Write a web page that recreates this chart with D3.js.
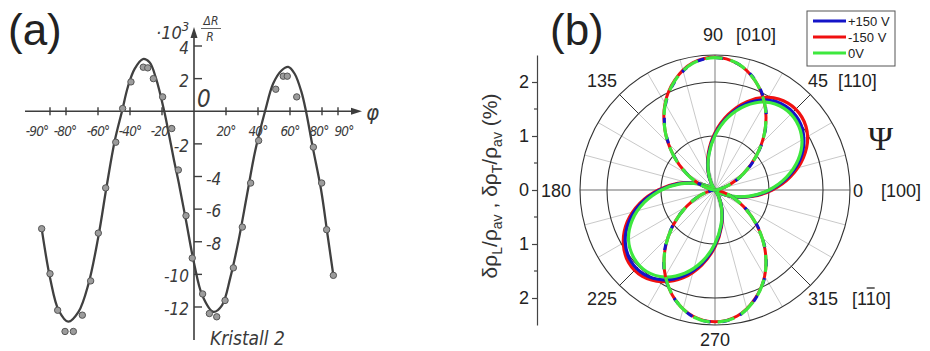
<!DOCTYPE html>
<html>
<head>
<meta charset="utf-8">
<script src="https://cdn.jsdelivr.net/npm/d3@7"></script>
<style>
  body { margin: 0; background: #fff; }
  svg { display: block; font-family: "Liberation Sans", Arial, sans-serif; }
  .hand { font-family: "DejaVu Sans Condensed", "DejaVu Sans", sans-serif; font-style: oblique; fill: #3a3a3a; }
</style>
</head>
<body>
<svg width="930" height="351"></svg>
<script>
// ---- panel (a): dR/R (x1e-3) vs angle, Kristall 2
const psiTicks = [-90, -80, -60, -40, -20, 20, 40, 60, 80, 90];
const drTicks = [4, 2, -2, -4, -6, -8, -10, -12];
const curvePsi = [-95.2, -89.8, -84.6, -78.6, -72.2, -66, -59.8, -54.6, -49.5, -45, -41.3, -37.1, -31.9, -27.8, -23.7, -18.6, -15.5, -12.5, -9.5, -5, 0, 5.2, 12.1, 17.5, 22.7, 27.9, 33, 38.1, 44.4, 49.5, 54.7, 58.9, 62.9, 67.1, 70, 74.2, 79.4, 83.5, 87.1];
const curveDR = [-7.2, -10.3, -12.2, -12.9, -12.3, -10.6, -7.7, -4.6, -1.8, 0, 1.5, 2.6, 3.2, 3.0, 2.0, 0, -1.5, -3.0, -4.4, -6.7, -9.3, -11.3, -12.3, -11.9, -10.2, -7.9, -5.2, -2.5, 0, 1.7, 2.5, 2.72, 2.3, 1.2, 0, -2.2, -4.8, -7.6, -10.06];
const dotPsi = [-95.2, -90, -85.2, -80.6, -75.4, -69.8, -64.6, -59.8, -55.2, -48.9, -44.6, -39.4, -31.7, -28.9, -25.4, -19.6, -13.9, -9.8, -5, -1.1, 5.4, 9.6, 14.2, 19.4, 24.6, 30.2, 35.4, 40.4, 51.1, 55.8, 58.3, 64.2, 74.6, 79.8, 82.9, 87.1];
const dotDR = [-7.2, -9.96, -12.2, -13.5, -13.5, -12.5, -10.4, -7.47, -4.7, -1.9, 0.17, 1.8, 2.7, 2.66, 2.0, 0.88, -1.06, -3.6, -6.4, -9.0, -11.2, -12.4, -12.6, -11.6, -9.6, -7.1, -4.4, -1.8, 1.35, 2.15, 2.15, 0.88, -2.2, -4.4, -7.26, -10.06];

// ---- panel (b): polar plot, angle in degrees, radius in %
const polarAngles = [0, 10, 20, 30, 40, 50, 60, 70, 80, 90, 100, 110, 120, 130, 140, 150, 160, 170,
                     180, 190, 200, 210, 220, 230, 240, 250, 260, 270, 280, 290, 300, 310, 320, 330, 340, 350];
// lobes along [010] (drawn dashed-looking)
const rho90Plus = [0, 0.07, 0.29, 0.62, 1.02, 1.45, 1.85, 2.17, 2.38, 2.45, 2.38, 2.15, 1.83, 1.43, 1.00, 0.60, 0.28, 0.07,
                   0, 0.07, 0.29, 0.61, 1.02, 1.45, 1.85, 2.16, 2.38, 2.45, 2.38, 2.16, 1.85, 1.45, 1.02, 0.62, 0.29, 0.07];
const rho90Minus = [0, 0.07, 0.29, 0.61, 1.01, 1.44, 1.84, 2.16, 2.38, 2.46, 2.39, 2.17, 1.85, 1.44, 1.01, 0.61, 0.29, 0.07,
                    0, 0.07, 0.29, 0.61, 1.01, 1.44, 1.84, 2.16, 2.37, 2.44, 2.37, 2.15, 1.84, 1.44, 1.01, 0.61, 0.29, 0.07];
const rho90Zero = [0, 0.07, 0.29, 0.61, 1.01, 1.44, 1.84, 2.16, 2.38, 2.45, 2.38, 2.16, 1.84, 1.44, 1.01, 0.61, 0.29, 0.07,
                   0, 0.07, 0.29, 0.61, 1.01, 1.44, 1.84, 2.16, 2.38, 2.45, 2.38, 2.16, 1.84, 1.44, 1.01, 0.61, 0.29, 0.07];
// lobes along [110]
const rho45Plus = [1.02, 1.37, 1.68, 1.90, 2.02, 2.03, 1.92, 1.70, 1.38, 1.03, 0.67, 0.37, 0.14, 0.02, 0.02, 0.13, 0.36, 0.68,
                   1.02, 1.38, 1.69, 1.92, 2.04, 2.04, 1.92, 1.69, 1.38, 1.02, 0.67, 0.37, 0.14, 0.02, 0.02, 0.14, 0.37, 0.67];
const rho45Minus = [1.06, 1.42, 1.74, 1.98, 2.10, 2.10, 1.98, 1.74, 1.42, 1.06, 0.70, 0.38, 0.14, 0.02, 0.02, 0.14, 0.38, 0.70,
                    1.05, 1.41, 1.73, 1.96, 2.09, 2.09, 1.96, 1.73, 1.41, 1.05, 0.69, 0.37, 0.14, 0.02, 0.02, 0.14, 0.37, 0.69];
const rho45Zero = [1.00, 1.34, 1.64, 1.86, 1.97, 1.98, 1.88, 1.66, 1.36, 1.01, 0.66, 0.36, 0.13, 0.02, 0.02, 0.13, 0.35, 0.66,
                   0.99, 1.33, 1.63, 1.85, 1.96, 1.97, 1.86, 1.64, 1.34, 0.99, 0.65, 0.35, 0.13, 0.02, 0.02, 0.13, 0.35, 0.65];
const seriesNames = ['+150 V', '-150 V', '0V'];
const seriesColors = ['#1414c8', '#f01010', '#3ee83e'];
const radialTicks = [1, 2, 2.5];
const radialAxisTicks = [-2, -1, 0, 1, 2];

const svg = d3.select('svg');

// ================= panel (a)
const gA = svg.append('g');
const ink = '#3d3d3d';
const xA = d3.scaleLinear().domain([-90, 90]).range([50, 338]);
const yA = d3.scaleLinear().domain([4, -12]).range([46, 307]);
const x0 = xA(0), y0 = yA(0);

svg.append('text').attr('x', 8).attr('y', 45).attr('font-size', 44).attr('fill', '#222').text('(a)');

// axes drawn by hand, like the scan
gA.append('line').attr('x1', 25).attr('x2', 356).attr('y1', y0).attr('y2', y0)
    .attr('stroke', ink).attr('stroke-width', 1.6);
gA.append('path').attr('d', `M362,${y0} l-11,-3.5 l0,7 z`).attr('fill', ink);
gA.append('line').attr('x1', x0).attr('x2', x0).attr('y1', 34).attr('y2', 340)
    .attr('stroke', ink).attr('stroke-width', 1.6);
gA.append('path').attr('d', `M${x0},27 l-3.5,11 l7,0 z`).attr('fill', ink);

gA.selectAll('.xt').data(psiTicks).join('line')
    .attr('x1', d => xA(d)).attr('x2', d => xA(d))
    .attr('y1', y0 - 4).attr('y2', y0 + 4)
    .attr('stroke', ink).attr('stroke-width', 1.4);
// the end labels sit a bit outward in the scan
const labelShift = d => d === -90 ? -13 : d === 90 ? 6 : d === -80 ? -1 : d === 80 ? -3 : 0;
gA.selectAll('.xl').data(psiTicks).join('text')
    .attr('class', 'hand')
    .attr('x', d => xA(d) + labelShift(d)).attr('y', y0 + 25)
    .attr('text-anchor', 'middle').attr('font-size', 13.5)
    .attr('letter-spacing', -0.8)
    .text(d => d + '°');

gA.selectAll('.yt').data(drTicks).join('line')
    .attr('x1', x0).attr('x2', x0 + 8)
    .attr('y1', d => yA(d)).attr('y2', d => yA(d))
    .attr('stroke', ink).attr('stroke-width', 1.4);
const rightLabels = [-4, -6, -8];
gA.selectAll('.yl').data(drTicks).join('text')
    .attr('class', 'hand')
    .attr('x', d => rightLabels.includes(d) ? x0 + 12 : x0 - 5)
    .attr('y', d => yA(d) + 8)
    .attr('text-anchor', d => rightLabels.includes(d) ? 'start' : 'end')
    .attr('font-size', 17)
    .text(d => d);
gA.append('text').attr('class', 'hand').attr('x', x0 + 3).attr('y', y0 - 4)
    .attr('font-size', 24).text('0');

// unit and quantity
const unit = gA.append('text').attr('class', 'hand').attr('x', 156).attr('y', 39).attr('font-size', 18);
unit.append('tspan').text('·10');
unit.append('tspan').attr('dy', -8).attr('font-size', 13).text('3');
gA.append('text').attr('class', 'hand').attr('x', 211).attr('y', 25).attr('font-size', 12)
    .attr('text-anchor', 'middle').text('ΔR');
gA.append('line').attr('x1', 201).attr('x2', 221).attr('y1', 28.5).attr('y2', 28.5)
    .attr('stroke', ink).attr('stroke-width', 0.8);
gA.append('text').attr('class', 'hand').attr('x', 210).attr('y', 41).attr('font-size', 12)
    .attr('text-anchor', 'middle').text('R');
gA.append('text').attr('class', 'hand').attr('x', 366).attr('y', 120)
    .attr('font-size', 22).text('φ');
gA.append('text').attr('class', 'hand').attr('x', 210).attr('y', 345)
    .attr('font-size', 19).text('Kristall 2');

const lineA = d3.line()
    .x((d, i) => xA(curvePsi[i]))
    .y(d => yA(d))
    .curve(d3.curveCatmullRom.alpha(0.5));
gA.append('path').datum(curveDR)
    .attr('d', lineA)
    .attr('fill', 'none').attr('stroke', '#404040').attr('stroke-width', 2.3);

gA.selectAll('.dot').data(dotDR).join('circle')
    .attr('cx', (d, i) => xA(dotPsi[i])).attr('cy', d => yA(d))
    .attr('r', 3.2)
    .attr('fill', '#9c9c9c').attr('stroke', '#555').attr('stroke-width', 1);

// ================= panel (b)
svg.append('text').attr('x', 550).attr('y', 45).attr('font-size', 44).attr('fill', '#222').text('(b)');

const cx = 715, cy = 190;
const rB = d3.scaleLinear().domain([0, 2.5]).range([0, 135]);
const gB = svg.append('g').attr('transform', `translate(${cx},${cy})`);
const rad = a => a * Math.PI / 180;

const spokes = d3.range(0, 360, 15);
gB.selectAll('.spoke').data(spokes).join('line')
    .attr('x1', 0).attr('y1', 0)
    .attr('x2', d => rB(2.5) * Math.cos(rad(d)))
    .attr('y2', d => -rB(2.5) * Math.sin(rad(d)))
    .attr('stroke', d => d % 90 === 0 ? '#9c9c9c' : '#c9c9c9')
    .attr('stroke-width', d => d % 90 === 0 ? 1.3 : 1);
gB.selectAll('.diag').data([45, 135, 225, 315]).join('line')
    .attr('x1', d => rB(2) * Math.cos(rad(d))).attr('y1', d => -rB(2) * Math.sin(rad(d)))
    .attr('x2', d => rB(2.5) * Math.cos(rad(d))).attr('y2', d => -rB(2.5) * Math.sin(rad(d)))
    .attr('stroke', '#333').attr('stroke-width', 1);
gB.selectAll('.ring').data(radialTicks).join('circle')
    .attr('r', d => rB(d))
    .attr('fill', 'none').attr('stroke', '#333').attr('stroke-width', 1.1);

const radial = d3.lineRadial()
    .angle((d, i) => rad(90 - polarAngles[i]))
    .radius(d => rB(d))
    .curve(d3.curveCatmullRomClosed);

// [110] lobes: solid, red outside
[[rho45Minus, 1], [rho45Plus, 0], [rho45Zero, 2]].forEach(([vals, k]) => {
  gB.append('path').datum(vals).attr('d', radial)
      .attr('fill', 'none').attr('stroke', seriesColors[k]).attr('stroke-width', 3.2);
});
// [010] lobes: overlapping, so the three colours show as dashes
gB.append('path').datum(rho90Minus).attr('d', radial)
    .attr('fill', 'none').attr('stroke', seriesColors[1]).attr('stroke-width', 3);
gB.append('path').datum(rho90Plus).attr('d', radial)
    .attr('fill', 'none').attr('stroke', seriesColors[0]).attr('stroke-width', 3)
    .attr('stroke-dasharray', '7 12');
gB.append('path').datum(rho90Zero).attr('d', radial)
    .attr('fill', 'none').attr('stroke', seriesColors[2]).attr('stroke-width', 3.2)
    .attr('stroke-dasharray', '17 8').attr('stroke-dashoffset', 4);

// angle labels
const lab = (x, y, t, anchor) => svg.append('text').attr('x', x).attr('y', y)
    .attr('font-size', 18).attr('fill', '#222').attr('text-anchor', anchor || 'start').text(t);
lab(cx - 2, 41, '90', 'middle');
lab(736, 41, '[010]');
lab(617, 87, '135', 'end');
lab(808, 87, '45');
lab(838, 87, '[110]');
lab(571, 197, '180', 'end');
lab(853, 197, '0');
lab(881, 197, '[100]');
lab(617, 305, '225', 'end');
lab(808, 305, '315');
const miller = lab(852, 305, '[110]');
const n = miller.node();
const s = n.getStartPositionOfChar(2), e = n.getEndPositionOfChar(2);
svg.append('line').attr('x1', s.x + 1).attr('x2', e.x - 1).attr('y1', 288).attr('y2', 288)
    .attr('stroke', '#222').attr('stroke-width', 1.3);
lab(cx, 346, '270', 'middle');
svg.append('text').attr('x', 868).attr('y', 150).attr('font-size', 34)
    .attr('font-family', '"Liberation Serif", serif').attr('fill', '#222').text('Ψ');

// left radial scale (both directions from 0)
const yB = d3.scaleLinear().domain([-2.5, 2.5]).range([cy + 135, cy - 135]);
const axB = svg.append('g').attr('transform', 'translate(537,0)')
    .call(d3.axisLeft(yB).tickValues(radialAxisTicks).tickFormat(d => Math.abs(d))
      .tickSize(5).tickPadding(3).tickSizeOuter(0));
axB.select('.domain').attr('stroke', '#444').attr('stroke-width', 1.2);
axB.selectAll('.tick line').attr('stroke', '#444').attr('stroke-width', 1.2);
axB.selectAll('text').attr('font-size', 18).attr('fill', '#222')
    .attr('font-family', '"Liberation Sans", Arial, sans-serif');
axB.selectAll('.minor').data([-1.5, -0.5, 0.5, 1.5]).join('line')
    .attr('x1', -3).attr('x2', 0).attr('y1', d => yB(d)).attr('y2', d => yB(d))
    .attr('stroke', '#444').attr('stroke-width', 1.2);

const yl = svg.append('text').attr('transform', 'translate(497,186) rotate(-90)')
    .attr('text-anchor', 'middle').attr('font-size', 21).attr('fill', '#333');
yl.append('tspan').text('δρ');
yl.append('tspan').attr('dy', 5).attr('font-size', 14).text('L');
yl.append('tspan').attr('dy', -5).text('/ρ');
yl.append('tspan').attr('dy', 5).attr('font-size', 14).text('av');
yl.append('tspan').attr('dy', -5).text(' ,  δρ');
yl.append('tspan').attr('dy', 5).attr('font-size', 14).text('T');
yl.append('tspan').attr('dy', -5).text('/ρ');
yl.append('tspan').attr('dy', 5).attr('font-size', 14).text('av');
yl.append('tspan').attr('dy', -5).text(' (%)');

// legend
const leg = svg.append('g').attr('transform', 'translate(807,11)');
leg.append('rect').attr('width', 88).attr('height', 55)
    .attr('fill', '#fff').attr('stroke', '#555').attr('stroke-width', 1);
const items = leg.selectAll('.item').data(seriesNames).join('g')
    .attr('transform', (d, i) => `translate(0,${10 + i * 16})`);
items.append('line').attr('x1', 6).attr('x2', 39)
    .attr('stroke', (d, i) => seriesColors[i]).attr('stroke-width', 3);
items.append('text').attr('x', 41).attr('y', 5).attr('font-size', 13).attr('fill', '#222')
    .text(d => d);
</script>
</body>
</html>
